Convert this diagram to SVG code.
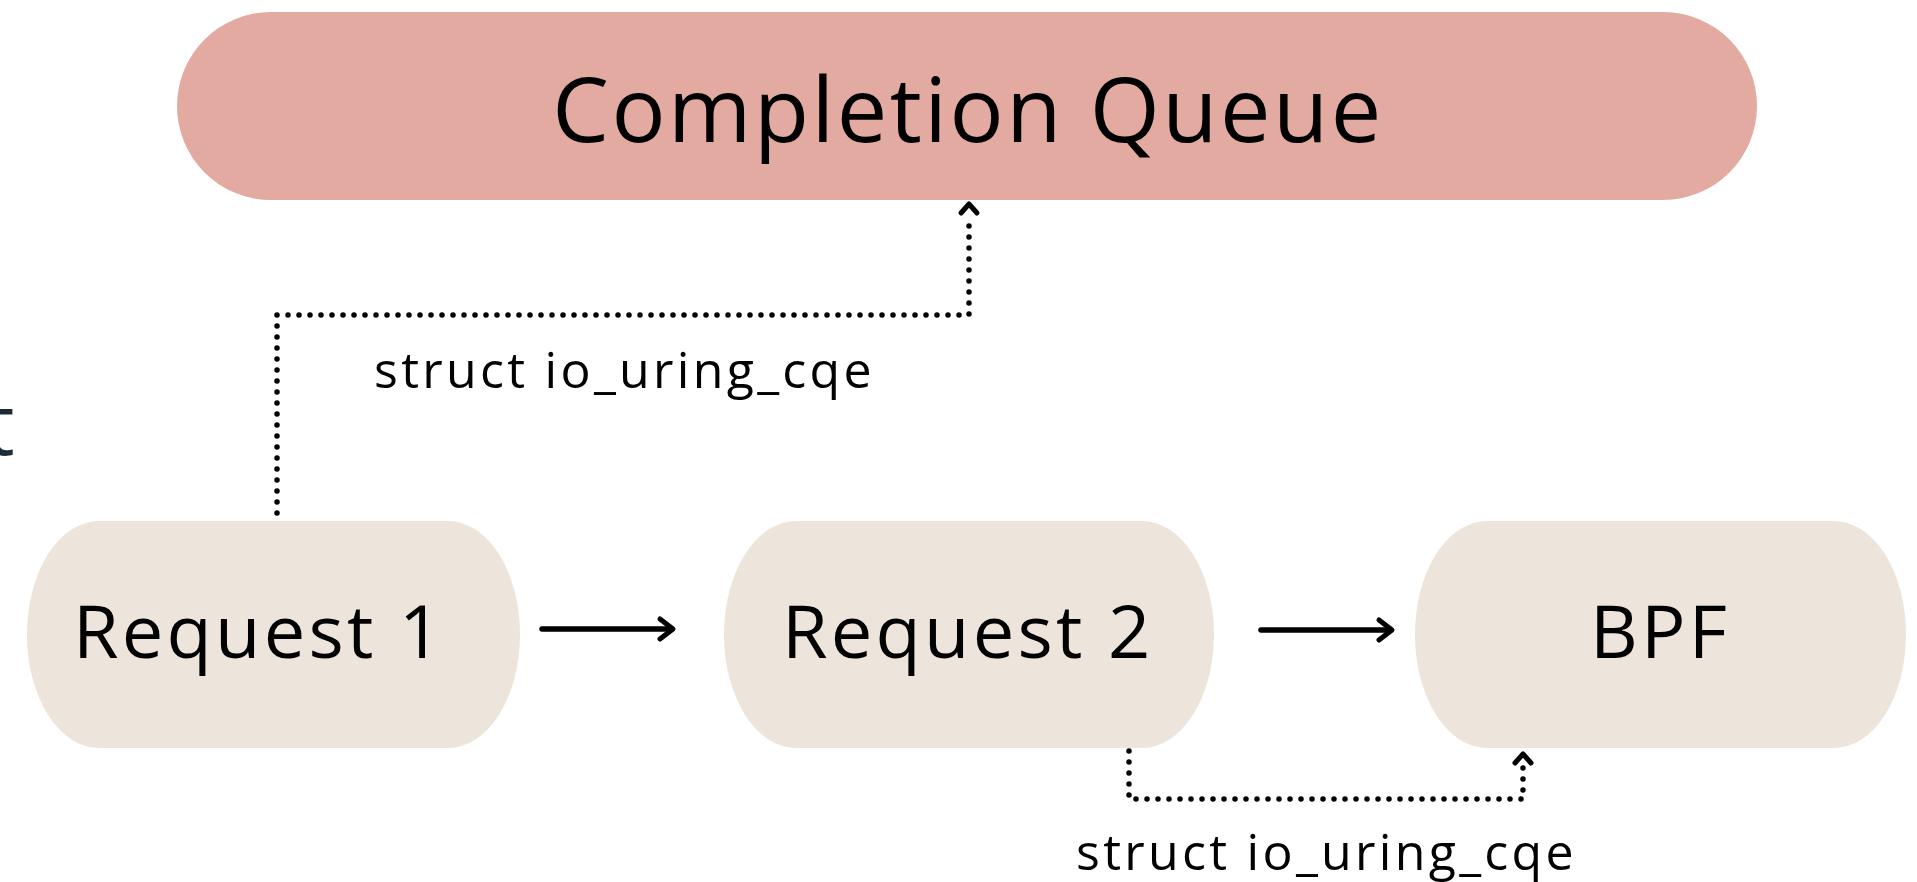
<svg xmlns="http://www.w3.org/2000/svg" width="1917" height="882" viewBox="0 0 1917 882">
  <style>
    .lbl { font-family: "Open Sans", "Noto Sans", "Liberation Sans", sans-serif; fill: #000; }
    .big { font-size: 90px; letter-spacing: 2.5px; }
    .node { font-size: 74px; letter-spacing: 3.2px; }
    .note { font-size: 50px; letter-spacing: 3.3px; }
    .req { fill: #EDE5DC; }
    .cq { fill: #E2AAA0; }
    .dot { fill: none; stroke: #000; stroke-width: 5.5; stroke-linecap: round; stroke-dasharray: 0 11; }
    .solid { fill: none; stroke: #000; stroke-width: 5.5; stroke-linecap: round; }
    .head { fill: none; stroke: #000; stroke-width: 5; stroke-linecap: round; stroke-linejoin: round; }
  </style>

  <rect width="1917" height="882" fill="#fff"/>

  <!-- clipped letter from a neighbouring heading -->
  <text x="-16" y="455" font-family="'Open Sans', sans-serif" font-size="86" fill="#1d2b36">t</text>

  <g id="completion-queue">
    <rect class="cq" x="177" y="12" width="1580" height="188" rx="94" ry="94"/>
    <text class="lbl big" x="968" y="142" text-anchor="middle">Completion Queue</text>
  </g>

  <g id="request-1">
    <rect class="req" x="27" y="521" width="493" height="227" rx="72" ry="113"/>
    <text class="lbl node" x="73" y="658">Request 1</text>
  </g>

  <g id="request-2">
    <rect class="req" x="724" y="521" width="490" height="227" rx="72" ry="113"/>
    <text class="lbl node" x="782" y="658">Request 2</text>
  </g>

  <g id="bpf">
    <rect class="req" x="1415" y="521" width="491" height="227" rx="72" ry="113"/>
    <text class="lbl node" x="1590" y="658">BPF</text>
  </g>

  <g id="connectors">
    <!-- request chain -->
    <line class="solid" x1="542" y1="629" x2="671" y2="629"/>
    <path class="head" d="M660 619 L673 629 L660 639"/>
    <line class="solid" x1="1261" y1="630" x2="1390" y2="630"/>
    <path class="head" d="M1379 620 L1392 630 L1379 640"/>

    <!-- completion from request 1 -->
    <path class="dot" d="M277 513 L277 315 L969 315 L969 216"/>
    <path class="head" d="M961 213 L969 204 L977 213"/>
    <text class="lbl note" x="374" y="388">struct io_uring_cqe</text>

    <!-- completion from request 2 -->
    <path class="dot" d="M1129 751 L1129 799 L1523 799 L1523 766"/>
    <path class="head" d="M1515 763 L1523 754 L1531 763"/>
    <text class="lbl note" x="1076" y="870">struct io_uring_cqe</text>
  </g>
</svg>
